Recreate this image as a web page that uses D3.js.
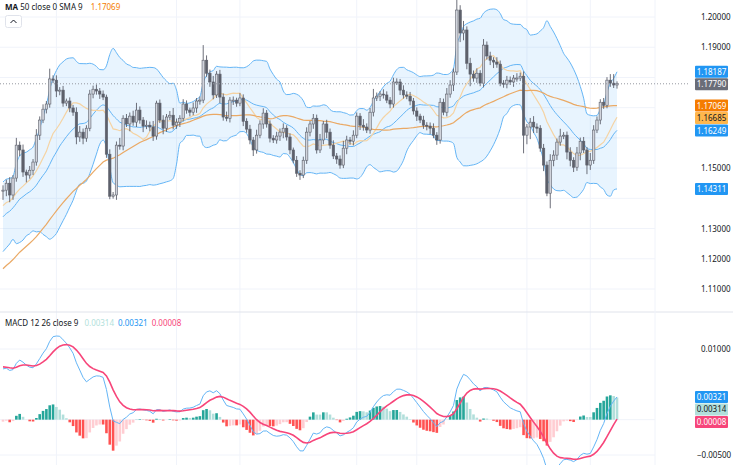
<!DOCTYPE html>
<html><head><meta charset="utf-8">
<script src="https://cdn.jsdelivr.net/npm/d3@7"></script>
<style>body{margin:0;background:#fff;font-family:"Noto Sans",Roboto,sans-serif}</style>
</head><body><svg id="c" width="733" height="465"></svg>
<script>
// prehistory closes (only used to warm up indicators, not drawn)
const preCloses=[1.0800,1.0815,1.0790,1.0835,1.0860,1.0845,1.0880,1.0900,1.0870,1.0910,1.0935,1.0920,1.0950,1.0940,1.0970,1.0955,1.0990,1.0980,1.1010,1.1000,1.1025,1.0990,1.1015,1.1040,1.1020,1.1050,1.1035,1.1065,1.1045,1.1080,1.1100,1.1070,1.1110,1.1090,1.1135,1.1120,1.1160,1.1140,1.1185,1.1210,1.1180,1.1230,1.1260,1.1240,1.1295,1.1270,1.1320,1.1300,1.1350,1.1330,1.1360,1.1320,1.1390,1.1410,1.1370,1.1345,1.1380,1.1360,1.1400,1.1420];
const firstOpen=1.1425;
const closes=[1.1427,1.1450,1.1411,1.1467,1.1576,1.1560,1.1487,1.1477,1.1493,1.1520,
1.1609,1.1659,1.1695,1.1712,1.1795,1.1791,1.1755,1.1758,1.1715,1.1722,
1.1699,1.1685,1.1603,1.1619,1.1599,1.1632,1.1745,1.1761,1.1755,1.1745,
1.1735,1.1546,1.1407,1.1411,1.1576,1.1573,1.1665,1.1646,1.1672,1.1652,
1.1692,1.1659,1.1639,1.1642,1.1636,1.1606,1.1715,1.1659,1.1632,1.1669,
1.1675,1.1642,1.1652,1.1665,1.1712,1.1692,1.1685,1.1699,1.1722,1.1725,
1.1857,1.1814,1.1785,1.1742,1.1811,1.1735,1.1669,1.1665,1.1725,1.1725,
1.1715,1.1732,1.1655,1.1629,1.1593,1.1560,1.1609,1.1646,1.1682,1.1646,
1.1599,1.1593,1.1606,1.1619,1.1632,1.1603,1.1560,1.1526,1.1483,1.1477,
1.1526,1.1619,1.1646,1.1665,1.1560,1.1593,1.1646,1.1619,1.1576,1.1540,
1.1530,1.1510,1.1566,1.1593,1.1589,1.1609,1.1672,1.1642,1.1636,1.1626,
1.1685,1.1732,1.1738,1.1745,1.1742,1.1725,1.1712,1.1785,1.1785,1.1758,
1.1742,1.1738,1.1722,1.1689,1.1672,1.1659,1.1642,1.1639,1.1632,1.1609,
1.1593,1.1718,1.1685,1.1745,1.1775,1.1818,1.2023,1.1947,1.1957,1.1847,
1.1811,1.1798,1.1814,1.1781,1.1907,1.1871,1.1857,1.1851,1.1844,1.1781,
1.1778,1.1791,1.1785,1.1798,1.1798,1.1804,1.1609,1.1636,1.1652,1.1636,
1.1632,1.1566,1.1510,1.1417,1.1526,1.1543,1.1586,1.1606,1.1609,1.1553,
1.1526,1.1503,1.1550,1.1589,1.1560,1.1510,1.1526,1.1626,1.1659,1.1718,
1.1708,1.1791,1.1781,1.1775,1.1779];
// wick lengths in units of 2 pips
const wickUp=[8,6,10,5,12,6,9,4,7,5, 10,6,8,5,17,6,8,5,7,4, 6,5,8,10,6,5,7,6,8,5, 6,4,8,5,6,12,5,7,6,9,
12,6,5,8,6,10,4,6,8,5, 7,12,6,5,8,6,4,9,5,6, 25,8,6,10,5,7,6,9,5,6, 4,8,6,5,7,5,9,6,8,5,
6,5,7,6,8,5,6,4,7,5, 6,8,5,7,6,10,5,7,6,8, 5,6,12,7,5,8,6,5,10,6, 7,15,6,5,8,6,5,7,6,5,
8,6,7,5,6,4,7,5,6,8, 5,7,6,10,8,6,40,8,15,6, 9,6,8,5,10,6,7,5,8,6, 5,7,6,5,8,6,8,5,7,10,
6,5,7,6,10,8,6,12,5,6, 8,5,10,6,7,5,12,8,6,5, 7,5,10,15,4];
const wickDn=[15,10,12,8,6,10,8,12,6,8, 6,8,5,7,6,5,10,7,6,5, 7,6,12,8,10,6,5,7,6,8, 5,6,5,4,8,6,7,5,12,6,
8,6,10,5,7,8,6,5,10,6, 5,7,6,8,5,6,7,5,8,6, 5,6,8,7,5,10,6,5,7,8, 6,5,8,6,7,10,6,5,8,6,
7,5,6,8,10,6,7,5,6,8, 5,6,7,8,6,5,7,10,6,5, 8,6,5,10,6,7,5,8,6,5, 6,7,5,8,6,5,7,6,5,8,
6,5,7,6,8,5,6,7,10,5, 8,6,5,7,6,10,5,15,12,10, 20,6,8,5,7,6,8,10,6,5, 6,7,5,8,6,5,30,15,20,10,
8,6,10,5,25,10,8,6,5,12, 10,8,6,12,5,15,8,6,5,7, 6,5,6,5,6];
const priceTicks=[1.11,1.12,1.13,1.14,1.15,1.16,1.17,1.18,1.19,1.20];
const macdTicks=[0.01,-0.005];
const vGridIdx=[16,52,71,106,124,157,176];

const N=closes.length;
const opens=closes.map((c,i)=>i?closes[i-1]:firstOpen);
const highs=closes.map((c,i)=>Math.max(c,opens[i])+wickUp[i]*0.0002);
const lows=closes.map((c,i)=>Math.min(c,opens[i])-wickDn[i]*0.0002);
const all=preCloses.concat(closes), P=preCloses.length;
function sma(n,k){let s=0;for(let j=k-n+1;j<=k;j++)s+=all[j];return s/n;}
function sd(n,k,m){let s=0;for(let j=k-n+1;j<=k;j++)s+=(all[j]-m)**2;return Math.sqrt(s/n);}
const bb=closes.map((c,i)=>{const k=i+P,m=sma(20,k),d=sd(20,k,m);return{m,u:m+2*d,l:m-2*d};});
const ma50=closes.map((c,i)=>sma(50,i+P));
const ma9=closes.map((c,i)=>sma(12,i+P));
function ema(arr,n){const a=2/(n+1);let e=arr[0];return arr.map(v=>e=e+a*(v-e));}
const e12=ema(all,12),e26=ema(all,26);
const macdAll=all.map((v,i)=>e12[i]-e26[i]);
const sigAll=ema(macdAll,9);
const macd=macdAll.slice(P),sig=sigAll.slice(P),hist=macd.map((m,i)=>m-sig[i]);

const svg=d3.select("#c");
const x=d3.scaleLinear().domain([0,N-1]).range([3,617]);
const y=d3.scaleLinear().domain([1.11,1.20]).range([289,17]);
const ym=d3.scaleLinear().domain([-0.005,0.01]).range([455,349]);
const font="Noto Sans, Roboto, sans-serif";
svg.append("defs").html('<clipPath id="cp"><rect x="0" y="0" width="655" height="311"/></clipPath><clipPath id="cm"><rect x="0" y="313" width="655" height="152"/></clipPath>');

priceTicks.forEach(t=>svg.append("line").attr("x1",0).attr("x2",655).attr("y1",y(t)).attr("y2",y(t)).attr("stroke","#f0f3fa"));
vGridIdx.forEach(i=>{svg.append("line").attr("x1",x(i)).attr("x2",x(i)).attr("y1",0).attr("y2",465).attr("stroke","#f0f3fa");});
macdTicks.concat([0]).forEach(t=>svg.append("line").attr("x1",0).attr("x2",655).attr("y1",ym(t)).attr("y2",ym(t)).attr("stroke","#f0f3fa"));
svg.append("line").attr("x1",0).attr("x2",733).attr("y1",312).attr("y2",312).attr("stroke","#e0e3eb");
svg.append("line").attr("x1",655).attr("x2",655).attr("y1",0).attr("y2",465).attr("stroke","#f0f3fa");

const g=svg.append("g").attr("clip-path","url(#cp)");
g.append("path").datum(bb).attr("fill","rgba(33,150,243,0.1)")
 .attr("d",d3.area().x((d,i)=>x(i)).y0(d=>y(d.l)).y1(d=>y(d.u)).curve(d3.curveMonotoneX));
["u","l","m"].forEach(k=>g.append("path").datum(bb).attr("fill","none").attr("stroke","#64b5f6").attr("stroke-width",1)
 .attr("d",d3.line().x((d,i)=>x(i)).y(d=>y(d[k])).curve(d3.curveMonotoneX)));
g.append("path").datum(ma9).attr("fill","none").attr("stroke","#f5d3a3").attr("stroke-width",1.2)
 .attr("d",d3.line().x((d,i)=>x(i)).y(d=>y(d)));
g.append("path").datum(ma50).attr("fill","none").attr("stroke","#eaa965").attr("stroke-width",1.2)
 .attr("d",d3.line().x((d,i)=>x(i)).y(d=>y(d)));
const cw=2.4;
closes.forEach((c,i)=>{
 const o=opens[i],up=c>=o,cx=x(i);
 g.append("line").attr("x1",cx).attr("x2",cx).attr("y1",y(highs[i])).attr("y2",y(lows[i])).attr("stroke","#5d606b").attr("stroke-width",0.9);
 g.append("rect").attr("x",cx-cw/2).attr("width",cw).attr("y",y(Math.max(o,c))).attr("height",Math.max(1,Math.abs(y(o)-y(c))))
  .attr("fill",up?"#d1d4dc":"#5d606b").attr("stroke","#5d606b").attr("stroke-width",0.6);
});
const last=closes[N-1];
svg.append("line").attr("x1",0).attr("x2",690).attr("y1",y(last)).attr("y2",y(last)).attr("stroke","#9598a1").attr("stroke-dasharray","1,2");

const gm=svg.append("g").attr("clip-path","url(#cm)");
hist.forEach((h,i)=>{
 const prev=i?hist[i-1]:h;
 const col=h>=0?(h>=prev?"#26a69a":"#b2dfdb"):(h<prev?"#ff5252":"#ffcdd2");
 gm.append("rect").attr("x",x(i)-1.3).attr("width",2.6).attr("y",Math.min(ym(h),ym(0))).attr("height",Math.abs(ym(h)-ym(0))).attr("fill",col);
});
gm.append("path").datum(macd).attr("fill","none").attr("stroke","#64b5f6").attr("stroke-width",1)
 .attr("d",d3.line().x((d,i)=>x(i)).y(d=>ym(d)));
gm.append("path").datum(sig).attr("fill","none").attr("stroke","#f7457a").attr("stroke-width",1.6)
 .attr("d",d3.line().x((d,i)=>x(i)).y(d=>ym(d)));

const L=N-1;
function layout(list,sc){
 list.forEach(b=>b.y=sc(b.v));
 list.sort((a,b)=>a.y-b.y);
 for(let k=1;k<list.length;k++) if(list[k].y<list[k-1].y+12.5) list[k].y=list[k-1].y+12.5;
 return list;
}
const pB=layout([{v:bb[L].u,bg:"#2196f3",fg:"#fff"},{v:last,bg:"#6a6d78",fg:"#fff"},{v:ma50[L],bg:"#f57c00",fg:"#fff"},
 {v:ma9[L],bg:"#ffb74d",fg:"#131722"},{v:bb[L].m,bg:"#2196f3",fg:"#fff"},{v:bb[L].l,bg:"#2196f3",fg:"#fff"}],y);
const mB=layout([{v:macd[L],bg:"#2196f3",fg:"#fff"},{v:hist[L],bg:"#b2dfdb",fg:"#131722"},{v:sig[L],bg:"#f7457a",fg:"#fff"}],ym);
const allB=pB.concat(mB);

function axisLabels(ticks,sc){
 ticks.forEach(t=>{
  const yy=sc(t);
  if(allB.some(b=>Math.abs(b.y-yy)<10)) return;
  svg.append("text").attr("x",t<0?697:701).attr("y",yy+3).attr("font-size",8).attr("font-family",font).attr("fill","#131722").text(d3.format(".5f")(t));
 });
}
axisLabels(priceTicks,y); axisLabels(macdTicks,ym);
allB.forEach(b=>{
 svg.append("rect").attr("x",695).attr("y",b.y-6).attr("width",33).attr("height",12).attr("rx",1).attr("fill",b.bg);
 svg.append("text").attr("x",711.5).attr("y",b.y+3).attr("text-anchor","middle").attr("font-size",8).attr("font-family",font).attr("fill",b.fg).text(d3.format(".5f")(b.v));
});

const lg=svg.append("text").attr("x",5).attr("y",10).attr("font-size",8).attr("font-family",font);
lg.append("tspan").attr("fill","#131722").attr("font-weight","bold").text("MA");
lg.append("tspan").attr("fill","#131722").text(" 50 close 0 SMA 9");
lg.append("tspan").attr("fill","#f57c00").attr("dx",8).text(d3.format(".5f")(ma50[L]));
svg.append("rect").attr("x",5.5).attr("y",15.5).attr("width",16).attr("height",12).attr("rx",2).attr("fill","#fff").attr("stroke","#e0e3eb");
svg.append("path").attr("d","M10.5 23 L13.5 20 L16.5 23").attr("fill","none").attr("stroke","#131722").attr("stroke-width",1);
const lm=svg.append("text").attr("x",5).attr("y",326).attr("font-size",8).attr("font-family",font);
lm.append("tspan").attr("fill","#131722").text("MACD 12 26 close 9");
lm.append("tspan").attr("fill","#b2dfdb").attr("dx",6).text(d3.format(".5f")(hist[L]));
lm.append("tspan").attr("fill","#2196f3").attr("dx",4).text(d3.format(".5f")(macd[L]));
lm.append("tspan").attr("fill","#f7457a").attr("dx",4).text(d3.format(".5f")(sig[L]));
</script></body></html>
